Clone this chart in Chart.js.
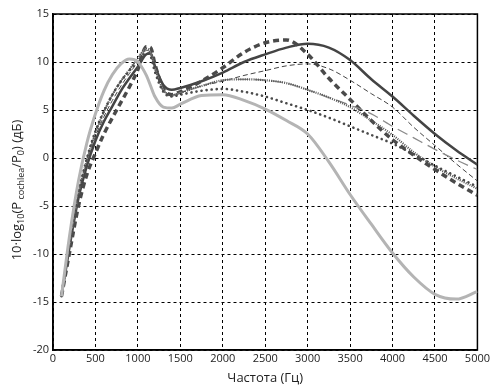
<!DOCTYPE html>
<html>
<head>
<meta charset="utf-8">
<script src="https://cdn.jsdelivr.net/npm/chart.js@4.4.1/dist/chart.umd.min.js"></script>
<style>
  html, body { margin: 0; padding: 0; background: #fff; }
  #wrap { width: 492px; height: 386px; }
</style>
</head>
<body>
<div id="wrap"><canvas id="chart" width="492" height="386"></canvas></div>
<script>
// частоты (Гц)
const freqs = [100, 200, 300, 400, 500, 600, 700, 800, 900, 1000, 1100, 1150, 1200, 1300, 1400, 1500,
               1750, 2000, 2250, 2500, 2750, 3000, 3250, 3500, 3750, 4000, 4250, 4500, 4750, 5000];

// кривые (дБ)
const lightGray   = [-14.4, -7.8, -2.4, 1.6, 4.6, 7.0, 8.7, 9.8, 10.3, 10.0, 8.6, 7.5, 6.4, 5.3, 5.2, 5.6,
                     6.5, 6.6, 6.0, 5.1, 3.9, 2.5, -0.4, -3.8, -6.9, -9.9, -12.4, -14.2, -14.7, -13.9];
const solidDark   = [-14.4, -9.0, -4.2, -0.8, 1.8, 3.8, 5.4, 7.0, 8.3, 9.5, 10.8, 10.9, 9.6, 7.6, 7.1, 7.3,
                     8.0, 8.9, 10.0, 10.8, 11.5, 11.9, 11.5, 10.2, 8.2, 6.4, 4.4, 2.5, 0.8, -0.7];
const thickDash   = [-14.4, -9.6, -5.0, -1.7, 0.5, 2.5, 4.2, 5.8, 7.4, 9.2, 11.6, 11.5, 9.8, 7.2, 6.6, 6.9,
                     8.0, 9.4, 11.0, 12.0, 12.3, 10.8, 8.3, 6.1, 3.9, 1.9, 0.3, -1.2, -2.6, -3.9];
const thinDash    = [-14.4, -8.9, -4.0, -0.5, 2.2, 4.3, 6.0, 7.5, 8.8, 10.0, 11.2, 11.0, 9.5, 7.2, 6.6, 6.8,
                     7.5, 8.0, 8.6, 9.1, 9.6, 9.8, 9.3, 8.1, 6.7, 5.3, 3.2, 1.3, -0.6, -2.4];
const longDash    = [-14.4, -8.8, -3.8, -0.2, 2.6, 4.8, 6.6, 8.0, 9.2, 10.4, 11.4, 11.0, 9.4, 7.1, 6.5, 6.8,
                     7.5, 8.1, 8.2, 8.1, 7.8, 7.1, 6.3, 5.5, 4.6, 3.3, 2.1, 0.9, -0.2, -1.2];
const denseDot    = [-14.4, -8.8, -3.8, -0.2, 2.6, 4.8, 6.6, 8.0, 9.2, 10.4, 11.4, 11.0, 9.4, 7.1, 6.5, 6.8,
                     7.5, 8.1, 8.2, 8.1, 7.8, 7.1, 6.3, 5.3, 3.9, 2.4, 0.6, -0.9, -2.1, -3.2];
const sparseDot   = [-14.4, -8.6, -3.6, 0.0, 2.8, 4.9, 6.6, 8.0, 9.1, 10.1, 10.9, 10.6, 9.0, 6.9, 6.4, 6.6,
                     7.0, 7.2, 6.9, 6.4, 5.7, 5.0, 4.2, 3.3, 2.4, 1.5, 0.4, -0.8, -1.9, -3.0];

const xTicks = [0, 500, 1000, 1500, 2000, 2500, 3000, 3500, 4000, 4500, 5000];
const yTicks = [-20, -15, -10, -5, 0, 5, 10, 15];

function pts(arr) {
    return freqs.map((f, i) => ({ x: f, y: arr[i] }));
}

function ds(arr, color, width, dash, cap) {
    return {
        data: pts(arr),
        borderColor: color,
        borderWidth: width,
        borderDash: dash || [],
        borderCapStyle: cap || "butt",
        pointRadius: 0,
        fill: false,
        cubicInterpolationMode: "monotone"
    };
}

// подпись оси Y с индексами
const yTitlePlugin = {
    id: "yTitle",
    afterDraw(chart) {
        const c = chart.ctx;
        const parts = [
            ["10·log", false], ["10", true], ["(P", false], [" cochlea", true],
            ["/P", false], ["0", true], [") (дБ)", false]
        ];
        const big = "13px 'Open Sans', sans-serif";
        const small = "9px 'Open Sans', sans-serif";
        c.save();
        let total = 0;
        parts.forEach(p => { c.font = p[1] ? small : big; total += c.measureText(p[0]).width; });
        c.translate(17, 190);
        c.rotate(-Math.PI / 2);
        c.fillStyle = "#222";
        c.textBaseline = "middle";
        let x = -total / 2;
        parts.forEach(p => {
            c.font = p[1] ? small : big;
            c.fillText(p[0], x, p[1] ? 4 : 0);
            x += c.measureText(p[0]).width;
        });
        c.restore();
    }
};

const ctx = document.getElementById("chart");
new Chart(ctx, {
    type: "line",
    data: {
        datasets: [
            ds(lightGray, "#b4b4b4", 3),
            ds(sparseDot, "#4a4a4a", 2.6, [0.1, 5], "round"),
            ds(denseDot, "#555555", 2.2, [1, 1.2]),
            ds(longDash, "#8a8a8a", 1.3, [11, 6]),
            ds(thinDash, "#444444", 1, [5, 3]),
            ds(thickDash, "#4a4a4a", 3.5, [6, 4]),
            ds(solidDark, "#444444", 2.5)
        ]
    },
    options: {
        responsive: false,
        animation: false,
        layout: { padding: { top: 14, right: 14, left: 0, bottom: 0 } },
        plugins: { legend: { display: false }, tooltip: { enabled: false } },
        scales: {
            x: {
                type: "linear",
                min: 0, max: 5000,
                afterBuildTicks(axis) { axis.ticks = xTicks.map(v => ({ value: v })); },
                afterFit(axis) { axis.height = 36; },
                grid: { color: "#000", lineWidth: 1, drawTicks: false },
                border: { display: true, color: "#000", width: 1.5, dash: [3, 3] },
                ticks: { color: "#222", font: { size: 11, family: "'Open Sans', sans-serif" }, padding: 2, maxRotation: 0,
                         callback: v => String(v) },
                title: { display: true, text: "Частота (Гц)", color: "#222", font: { size: 13, family: "'Open Sans', sans-serif" }, padding: { top: 0, bottom: 0 } }
            },
            y: {
                type: "linear",
                min: -20, max: 15,
                afterBuildTicks(axis) { axis.ticks = yTicks.map(v => ({ value: v })); },
                afterFit(axis) { axis.width = 53; },
                grid: { color: "#000", lineWidth: 1, drawTicks: false },
                border: { display: true, color: "#000", width: 1.5, dash: [3, 3] },
                ticks: { color: "#222", font: { size: 11, family: "'Open Sans', sans-serif" }, padding: 4,
                         callback: v => String(v) }
            }
        }
    },
    plugins: [yTitlePlugin, {
        id: "frame",
        beforeDatasetsDraw(chart) {
            // сплошная рамка поверх пунктирной сетки
            const a = chart.chartArea;
            const c = chart.ctx;
            c.save();
            c.strokeStyle = "#000";
            c.lineWidth = 1.5;
            c.strokeRect(a.left, a.top, a.right - a.left, a.bottom - a.top);
            c.restore();
        }
    }]
});
</script>
</body>
</html>
